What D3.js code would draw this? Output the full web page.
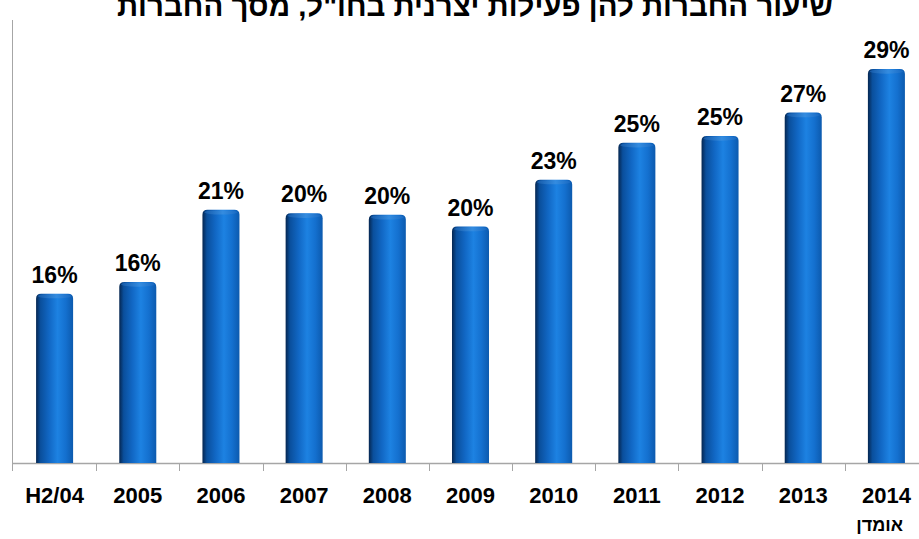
<!DOCTYPE html>
<html>
<head>
<meta charset="utf-8">
<script src="https://cdn.jsdelivr.net/npm/d3@7"></script>
<style>
body { margin: 0; background: #fff; }
svg { display: block; font-family: "Liberation Sans", Arial, sans-serif; }
</style>
</head>
<body>
<svg id="chart" width="919" height="539"></svg>
<script>
var years = ['H2/04', '2005', '2006', '2007', '2008', '2009', '2010', '2011', '2012', '2013', '2014'];
var values = [15.6, 16.3, 20.6, 20.4, 20.3, 19.6, 22.4, 24.6, 25.0, 26.4, 29.0];
var labels = ['16%', '16%', '21%', '20%', '20%', '20%', '23%', '25%', '25%', '27%', '29%'];
var title = 'שיעור החברות להן פעילות יצרנית בחו"ל, מסך החברות';
var note = 'אומדן';

var svg = d3.select('#chart');

var x = d3.scaleBand()
	.domain(years)
	.range([13, 928])
	.paddingInner(0.555)
	.paddingOuter(0.2775);

var y = d3.scaleLinear()
	.domain([5.5, 29])
	.range([463, 69]);

var step = x.step();

// bar gradient (cylinder look)
var defs = svg.append('defs');
var grad = defs.append('linearGradient')
	.attr('id', 'cyl')
	.attr('x1', '0%').attr('x2', '100%')
	.attr('y1', '0%').attr('y2', '0%');
var stops = [
	[0, '#052650'],
	[0.12, '#0a4f9c'],
	[0.35, '#1167c4'],
	[0.58, '#1d82e2'],
	[0.8, '#1470cf'],
	[1, '#0c5aae']
];
stops.forEach(function(s) {
	grad.append('stop').attr('offset', s[0]).attr('stop-color', s[1]);
});

var capGrad = defs.append('linearGradient')
	.attr('id', 'cap')
	.attr('x1', '0%').attr('x2', '100%');
capGrad.append('stop').attr('offset', 0).attr('stop-color', '#1a5fae');
capGrad.append('stop').attr('offset', 0.55).attr('stop-color', '#3a8fe0');
capGrad.append('stop').attr('offset', 1).attr('stop-color', '#1d6cc4');

// axes lines
svg.append('line')
	.attr('x1', 12.5).attr('x2', 12.5)
	.attr('y1', 20).attr('y2', 471)
	.attr('stroke', '#a6a6a6').attr('stroke-width', 1);

svg.append('line')
	.attr('x1', 12).attr('x2', 919)
	.attr('y1', 463.5).attr('y2', 463.5)
	.attr('stroke', '#a6a6a6').attr('stroke-width', 1.5);

svg.selectAll('.tick')
	.data(years.slice(1))
	.enter().append('line')
	.attr('class', 'tick')
	.attr('x1', function(d) { return Math.round(x(d) + x.bandwidth() / 2 - step / 2) + 0.5 })
	.attr('x2', function(d) { return Math.round(x(d) + x.bandwidth() / 2 - step / 2) + 0.5 })
	.attr('y1', 463)
	.attr('y2', 471)
	.attr('stroke', '#a6a6a6');

// bars
var bars = svg.selectAll('.bar')
	.data(years)
	.enter().append('g')
	.attr('class', 'bar');

bars.append('path')
	.attr('d', function(d, i) {
		var x0 = x(d), w = x.bandwidth(), top = y(values[i]), r = 5, b = y.range()[0];
		return 'M' + x0 + ',' + b +
			'L' + x0 + ',' + (top + r) +
			'Q' + x0 + ',' + top + ' ' + (x0 + r) + ',' + top +
			'L' + (x0 + w - r) + ',' + top +
			'Q' + (x0 + w) + ',' + top + ' ' + (x0 + w) + ',' + (top + r) +
			'L' + (x0 + w) + ',' + b + 'Z';
	})
	.attr('fill', 'url(#cyl)');

bars.append('ellipse')
	.attr('cx', function(d) { return x(d) + x.bandwidth() / 2 })
	.attr('cy', function(d, i) { return y(values[i]) + 2.5 })
	.attr('rx', function() { return x.bandwidth() / 2 - 2 })
	.attr('ry', 2.2)
	.attr('fill', 'url(#cap)')
	.attr('opacity', 0.8);

// value labels
svg.selectAll('.val')
	.data(years)
	.enter().append('text')
	.attr('class', 'val')
	.attr('x', function(d) { return x(d) + x.bandwidth() / 2 })
	.attr('y', function(d, i) { return y(values[i]) - 11 })
	.attr('text-anchor', 'middle')
	.style('font-size', '23px')
	.style('font-weight', 'bold')
	.style('fill', '#000')
	.text(function(d, i) { return labels[i] });

// category labels
svg.selectAll('.cat')
	.data(years)
	.enter().append('text')
	.attr('class', 'cat')
	.attr('x', function(d) { return x(d) + x.bandwidth() / 2 })
	.attr('y', 503)
	.attr('text-anchor', 'middle')
	.style('font-size', '22px')
	.style('font-weight', 'bold')
	.style('fill', '#000')
	.text(function(d) { return d });

svg.append('text')
	.attr('x', 903)
	.attr('y', 531)
	.attr('text-anchor', 'end')
	.style('font-size', '18px')
	.style('font-weight', 'bold')
	.text(note);

// title, cut off at the top like the original
svg.append('text')
	.attr('x', 475)
	.attr('y', 16)
	.attr('text-anchor', 'middle')
	.attr('textLength', 716)
	.attr('lengthAdjust', 'spacingAndGlyphs')
	.style('font-family', '"Liberation Sans Narrow", "Liberation Sans", sans-serif')
	.style('font-size', '30px')
	.style('font-weight', 'bold')
	.text(title);
</script>
</body>
</html>
